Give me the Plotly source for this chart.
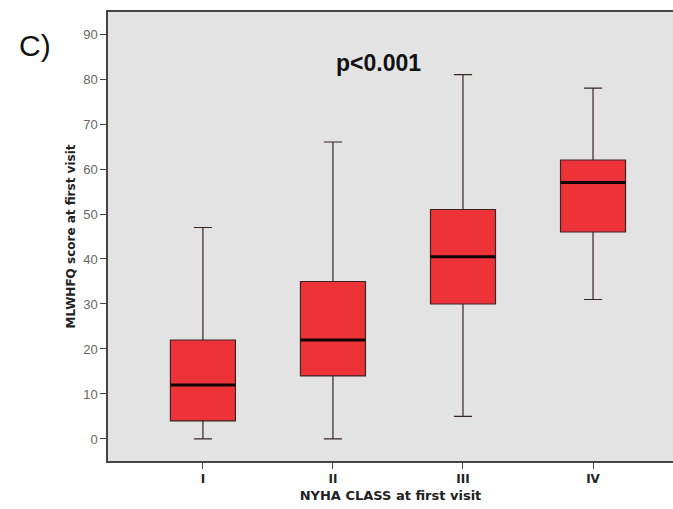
import plotly.graph_objects as go

categories = ["I", "II", "III", "IV"]
lower_whisker = [0, 0, 5, 31]
q1 = [4, 14, 30, 46]
median = [12, 22, 40.5, 57]
q3 = [22, 35, 51, 62]
upper_whisker = [47, 66, 81, 78]
y_ticks = [0, 10, 20, 30, 40, 50, 60, 70, 80, 90]

xpos = list(range(len(categories)))
box_w = 0.5

fig = go.Figure()
fig.add_trace(go.Box(
    x=xpos, q1=q1, median=median, q3=q3,
    lowerfence=lower_whisker, upperfence=upper_whisker,
    width=box_w, whiskerwidth=0.28,
    fillcolor="#EE3338",
    line=dict(color="#3a2424", width=1.2),
    boxpoints=False, showlegend=False, hoverinfo="skip",
))

# thick median lines
mx, my = [], []
for i, m in zip(xpos, median):
    mx += [i - box_w / 2, i + box_w / 2, None]
    my += [m, m, None]
fig.add_trace(go.Scatter(x=mx, y=my, mode="lines",
                         line=dict(color="#120404", width=3),
                         showlegend=False, hoverinfo="skip"))

fig.update_layout(
    width=673, height=509,
    margin=dict(l=108, r=0, t=12, b=48),
    paper_bgcolor="white", plot_bgcolor="#E3E3E3",
    font=dict(family="Arial, Liberation Sans", color="#555555", size=12),
)
fig.update_xaxes(
    range=[-0.73, 3.615], tickvals=xpos, ticktext=categories,
    showgrid=False, zeroline=False,
    showline=True, linecolor="#444444", linewidth=1.5, mirror=True,
    ticks="outside", ticklen=6, tickcolor="#444444",
    tickfont=dict(family="DejaVu Sans", size=12, color="#222222", weight="bold"),
    title=dict(text="<b>NYHA CLASS at first visit</b>",
               font=dict(family="DejaVu Sans", size=13, color="#222222"),
               standoff=6),
)
fig.update_yaxes(
    range=[-4.9, 94.9], tickvals=y_ticks,
    showgrid=False, zeroline=False,
    showline=True, linecolor="#444444", linewidth=1.5,
    ticks="outside", ticklen=6, tickcolor="#444444",
    tickfont=dict(family="Arial, Liberation Sans", size=13, color="#666666"),
    title=dict(text="<b>MLWHFQ score at first visit</b>",
               font=dict(family="DejaVu Sans", size=12, color="#222222"),
               standoff=5),
)
fig.add_annotation(text="C)", xref="paper", yref="paper", x=-0.129, y=0.9265,
                   showarrow=False, xanchor="center", yanchor="middle",
                   font=dict(family="Arial, Liberation Sans", size=30, color="#111111"))
fig.add_annotation(text="<b>p<0.001</b>", xref="paper", yref="paper", x=0.478, y=0.886,
                   showarrow=False, xanchor="center", yanchor="middle",
                   font=dict(family="Arial, Liberation Sans", size=23, color="#111111"))

fig.write_html("out.html", config={"displayModeBar": False},
               post_script="document.body.style.margin='0';document.body.style.overflow='hidden';")
